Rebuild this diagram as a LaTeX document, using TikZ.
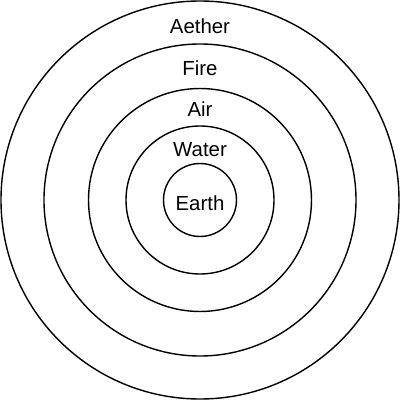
\documentclass[tikz,border=0pt]{standalone}
\usepackage{fontspec}
\setmainfont{Liberation Sans}
\usepackage{tikz}
\tikzset{ring/.style={line width=1pt}, elem/.style={anchor=base, inner sep=0pt, font=\fontsize{14.5}{17}\selectfont}}

\begin{document}
\begin{tikzpicture}[x=0.25mm, y=0.25mm]
	\useasboundingbox (-200,-200) rectangle (200,200);
	\coordinate (c) at (0,0);
	\draw[ring] (c) circle (199);
	\draw[ring] (c) circle (156);
	\draw[ring] (c) circle (111.5);
	\draw[ring] (c) circle (74);
	\draw[ring] (c) circle (36.5);
	\node[elem] (aether) at (0,166) {Aether};
	\node[elem] (fire) at (0,124) {Fire};
	\node[elem] (air) at (0,83) {Air};
	\node[elem] (water) at (0,43.5) {Water};
	\node[elem] (earth) at (0,-10) {Earth};
\end{tikzpicture}
\end{document}
